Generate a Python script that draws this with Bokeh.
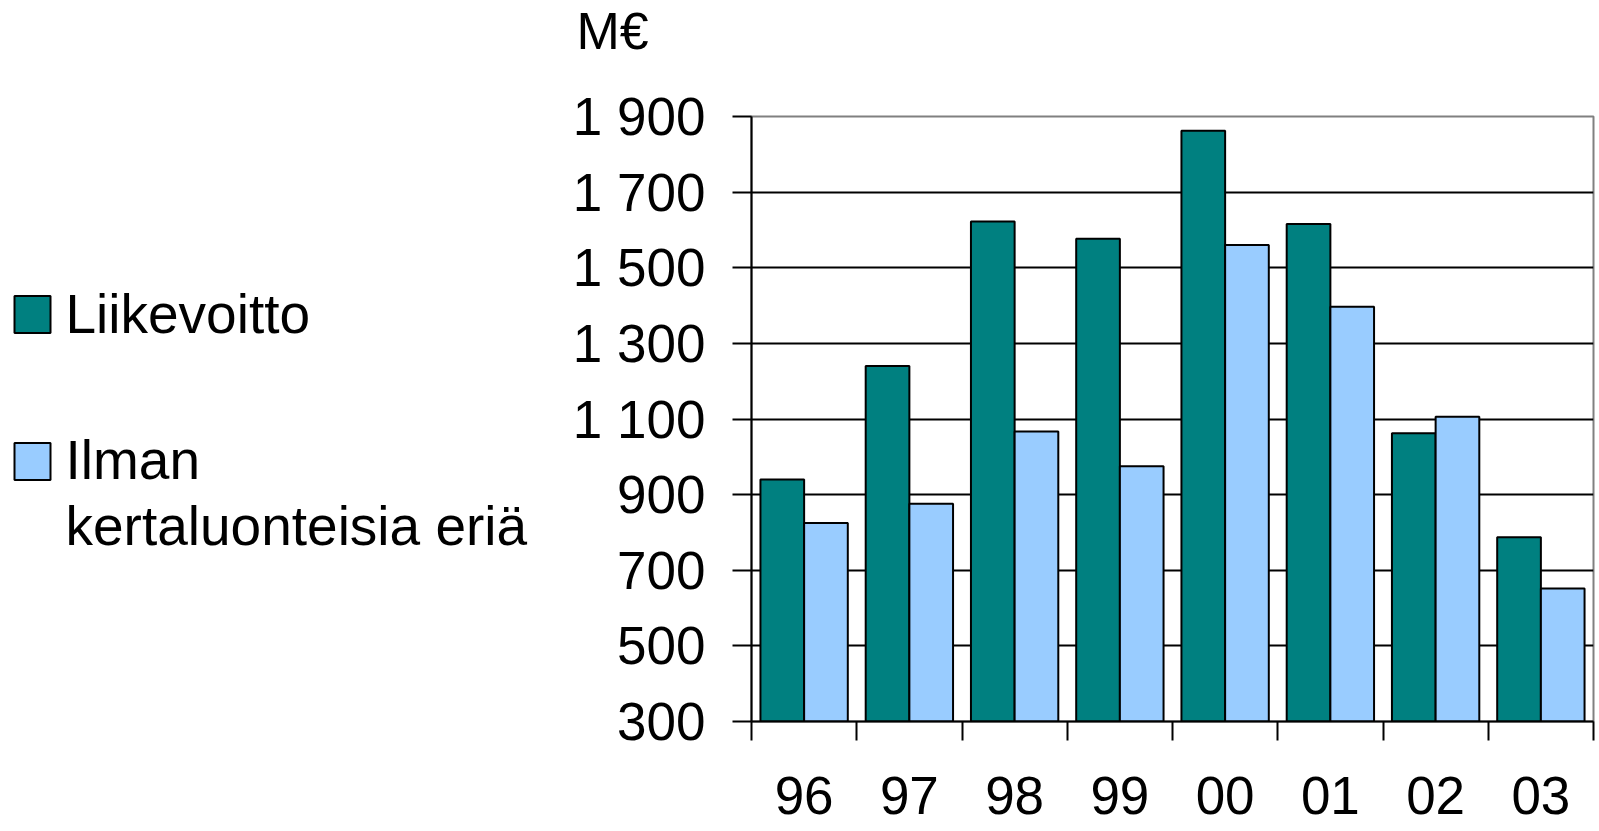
from bokeh.plotting import figure
from bokeh.models import Range1d, FixedTicker, ColumnDataSource
from bokeh.layouts import row, column
from bokeh.embed import file_html
from bokeh.resources import INLINE
from bokeh.core.properties import value
from bokeh.transform import dodge

# ---- data ----
years = ["96", "97", "98", "99", "00", "01", "02", "03"]
liikevoitto = [940, 1240, 1622, 1577, 1862, 1616, 1062, 787]
ilman_kertaluonteisia = [825, 876, 1067, 975, 1560, 1397, 1106, 652]
series_names = ["Liikevoitto", "Ilman kertaluonteisia eriä"]
legend_lines = [["Liikevoitto"], ["Ilman", "kertaluonteisia eriä"]]
y_ticks = [300, 500, 700, 900, 1100, 1300, 1500, 1700, 1900]
y_tick_labels = ["300", "500", "700", "900", "1 100", "1 300", "1 500", "1 700", "1 900"]
unit_label = "M€"

colors = ["#008080", "#99CCFF"]
FONT = "Liberation Sans"

TOTAL_W, TOTAL_H = 1599, 831
LEG_W = 560
MAIN_W = TOTAL_W - LEG_W
TOP_H = 70

TXT_SHIFT = 20  # text glyph baseline correction (px)


def blank(width, height):
    f = figure(width=width, height=height, output_backend="svg", toolbar_location=None,
               x_range=Range1d(0, width), y_range=Range1d(height, 0),
               min_border=0, min_border_left=0, min_border_right=0,
               min_border_top=0, min_border_bottom=0,
               background_fill_color="white", border_fill_color="white")
    f.frame_align = False
    f.outline_line_color = None
    f.axis.visible = False
    f.grid.grid_line_color = None
    return f


# ---- main chart ----
idx = list(range(len(years)))
src = ColumnDataSource(dict(x=idx, year=years, liike=liikevoitto, ilman=ilman_kertaluonteisia))

p = figure(width=MAIN_W, height=TOTAL_H - TOP_H, output_backend="svg", toolbar_location=None,
           x_range=Range1d(-0.5, len(years) - 0.5), y_range=Range1d(y_ticks[0], y_ticks[-1]),
           min_border_left=191, min_border_right=6, min_border_top=116 - TOP_H, min_border_bottom=110,
           background_fill_color="white", border_fill_color="white")
p.frame_align = False

p.outline_line_color = "#808080"
p.outline_line_width = 2

bw = 0.415
p.vbar(x=dodge("x", -bw / 2, range=p.x_range), top="liike", bottom=y_ticks[0], width=bw,
       source=src, fill_color=colors[0], line_color="black", line_width=2)
p.vbar(x=dodge("x", bw / 2, range=p.x_range), top="ilman", bottom=y_ticks[0], width=bw,
       source=src, fill_color=colors[1], line_color="black", line_width=2)

# x axis: labels at category centres, ticks at category boundaries (minor ticks)
xa = p.xaxis[0]
xa.ticker = FixedTicker(ticks=idx, minor_ticks=[i - 0.5 for i in range(len(years) + 1)])
xa.major_label_overrides = {i: y for i, y in zip(idx, years)}
xa.major_tick_out = 0
xa.major_tick_in = 0
xa.major_tick_line_color = None
xa.minor_tick_out = 19
xa.minor_tick_in = 0
xa.minor_tick_line_color = "black"
xa.minor_tick_line_width = 2
xa.axis_line_color = "black"
xa.axis_line_width = 2
xa.major_label_text_font = FONT
xa.major_label_text_font_size = "53px"
xa.major_label_text_color = "black"
xa.major_label_standoff = 36

ya = p.yaxis[0]
ya.ticker = FixedTicker(ticks=y_ticks, minor_ticks=[])
ya.major_label_overrides = {t: l for t, l in zip(y_ticks, y_tick_labels)}
ya.major_tick_out = 19
ya.major_tick_in = 0
ya.major_tick_line_color = "black"
ya.major_tick_line_width = 2
ya.minor_tick_line_color = None
ya.axis_line_color = "black"
ya.axis_line_width = 2
ya.major_label_text_font = FONT
ya.major_label_text_font_size = "53px"
ya.major_label_text_color = "black"
ya.major_label_standoff = 27

p.xgrid.grid_line_color = None
p.ygrid.ticker = FixedTicker(ticks=y_ticks[1:-1])
p.ygrid.grid_line_color = "black"
p.ygrid.grid_line_width = 2

# ---- unit label strip above the chart ----
top = blank(MAIN_W, TOP_H)
top.text(x=[16], y=[47.7 - 17], text=[unit_label], text_font=value(FONT), text_font_size="52px",
         text_baseline="alphabetic", text_align="left", text_color="black")

# ---- legend panel ----
lg = blank(LEG_W, TOTAL_H)
sw_y = [314, 461]
lg.rect(x=[32, 32], y=sw_y, width=36, height=37, fill_color=colors, line_color="black", line_width=2)
tx, ty, tt = [], [], []
baselines = [[333.3], [479, 545.6]]
for lines, bls in zip(legend_lines, baselines):
    for line, b in zip(lines, bls):
        tx.append(65)
        ty.append(b - TXT_SHIFT)
        tt.append(line)
lg.text(x=tx, y=ty, text=tt, text_font=value(FONT), text_font_size="55px",
        text_baseline="alphabetic", text_align="left", text_color="black")

layout = row(lg, column(top, p))
open("out.html", "w").write(file_html(layout, INLINE))
